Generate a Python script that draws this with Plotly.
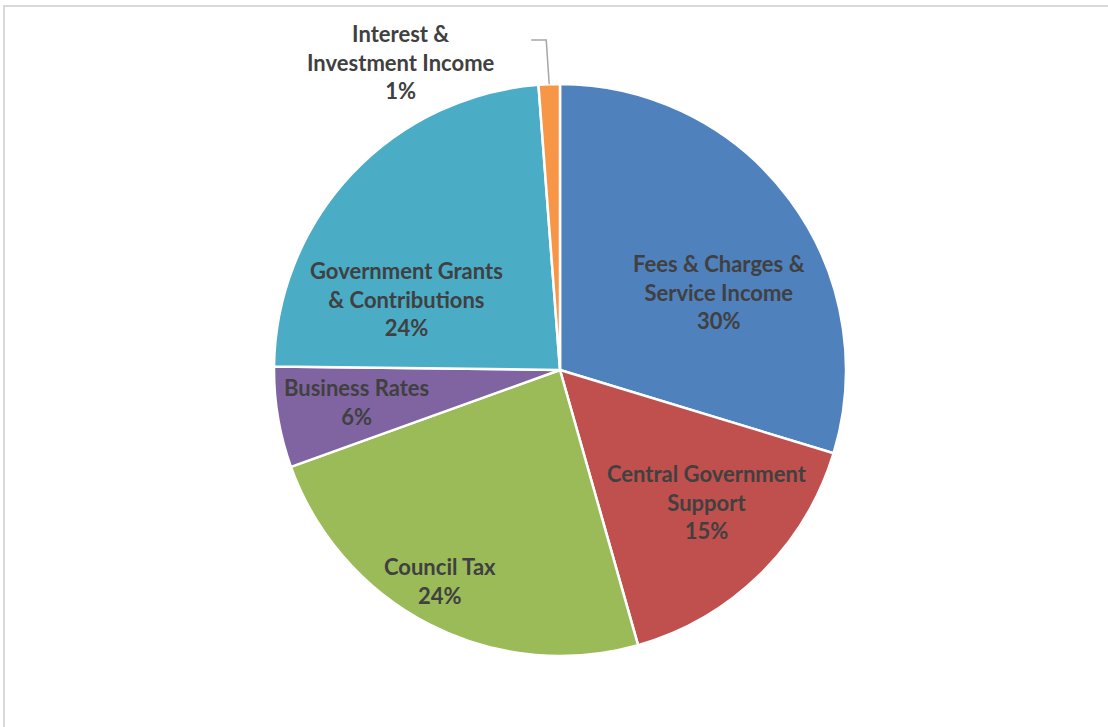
import math
import plotly.graph_objects as go

# ---- data ----
categories = [
    "Fees & Charges &<br>Service Income",
    "Central Government<br>Support",
    "Council Tax",
    "Business Rates",
    "Government Grants<br>& Contributions",
    "Interest &<br>Investment Income",
]
values = [29.7, 15.9, 23.9, 5.7, 23.6, 1.2]
pct_labels = ["30%", "15%", "24%", "6%", "24%", "1%"]
colors = ["#4F81BD", "#C0504D", "#9BBB59", "#8064A2", "#4BACC6", "#F79646"]

# ---- style (label placement in polar terms relative to pie) ----
label_r = [0.62, 0.69, 0.85, 0.72, 0.59, 1.0]
label_nudge_deg = [10.5, -3.6, 2.5, 0.5, -18.4, 0.0]

W, H = 1108, 727
cx, cy, R = 560, 370, 286

fig = go.Figure(go.Pie(
    labels=[c.replace("<br>", " ") for c in categories],
    values=values,
    sort=False,
    direction="clockwise",
    rotation=0,
    marker=dict(colors=colors, line=dict(color="white", width=2.5)),
    textinfo="none",
    hoverinfo="label+percent",
    domain=dict(x=[(cx - R) / W, (cx + R) / W], y=[1 - (cy + R) / H, 1 - (cy - R) / H]),
    showlegend=False,
))

total = sum(values)
cum = 0.0
annotations = []
shapes = []
font = dict(family="Lato, 'Open Sans', sans-serif", size=22, color="#404040")
for i, v in enumerate(values):
    mid = (cum + v / 2) / total * 360.0
    cum += v
    ang = math.radians(mid + label_nudge_deg[i])
    text = "<b>" + categories[i] + "<br>" + pct_labels[i] + "</b>"
    if i == len(values) - 1:
        # outside label with leader line
        ex = cx + R * math.sin(math.radians(mid))
        ey = cy - R * math.cos(math.radians(mid))
        bx, by = ex - 3, 40
        hx = bx - 15
        path = "M {} {} L {} {} L {} {}".format(
            ex / W, 1 - ey / H, bx / W, 1 - by / H, hx / W, 1 - by / H)
        shapes.append(dict(type="path", path=path, xref="paper", yref="paper",
                           line=dict(color="#A6A6A6", width=1.5)))
        annotations.append(dict(x=(hx - 130) / W, y=1 - 62 / H, xref="paper", yref="paper",
                                text=text, showarrow=False, font=font, align="center",
                                xanchor="center", yanchor="middle"))
    else:
        lx = cx + label_r[i] * R * math.sin(ang)
        ly = cy - label_r[i] * R * math.cos(ang)
        annotations.append(dict(x=lx / W, y=1 - ly / H, xref="paper", yref="paper",
                                text=text, showarrow=False, font=font, align="center",
                                xanchor="center", yanchor="middle"))

# chart frame
shapes.append(dict(type="rect", xref="paper", yref="paper",
                   x0=4 / W, x1=1.2, y0=-0.2, y1=1 - 6 / H,
                   line=dict(color="#D9D9D9", width=2), fillcolor="rgba(0,0,0,0)"))

fig.update_layout(
    width=W, height=H,
    margin=dict(l=0, r=0, t=0, b=0),
    paper_bgcolor="white",
    plot_bgcolor="white",
    annotations=annotations,
    shapes=shapes,
)
fig.write_html("out.html")
